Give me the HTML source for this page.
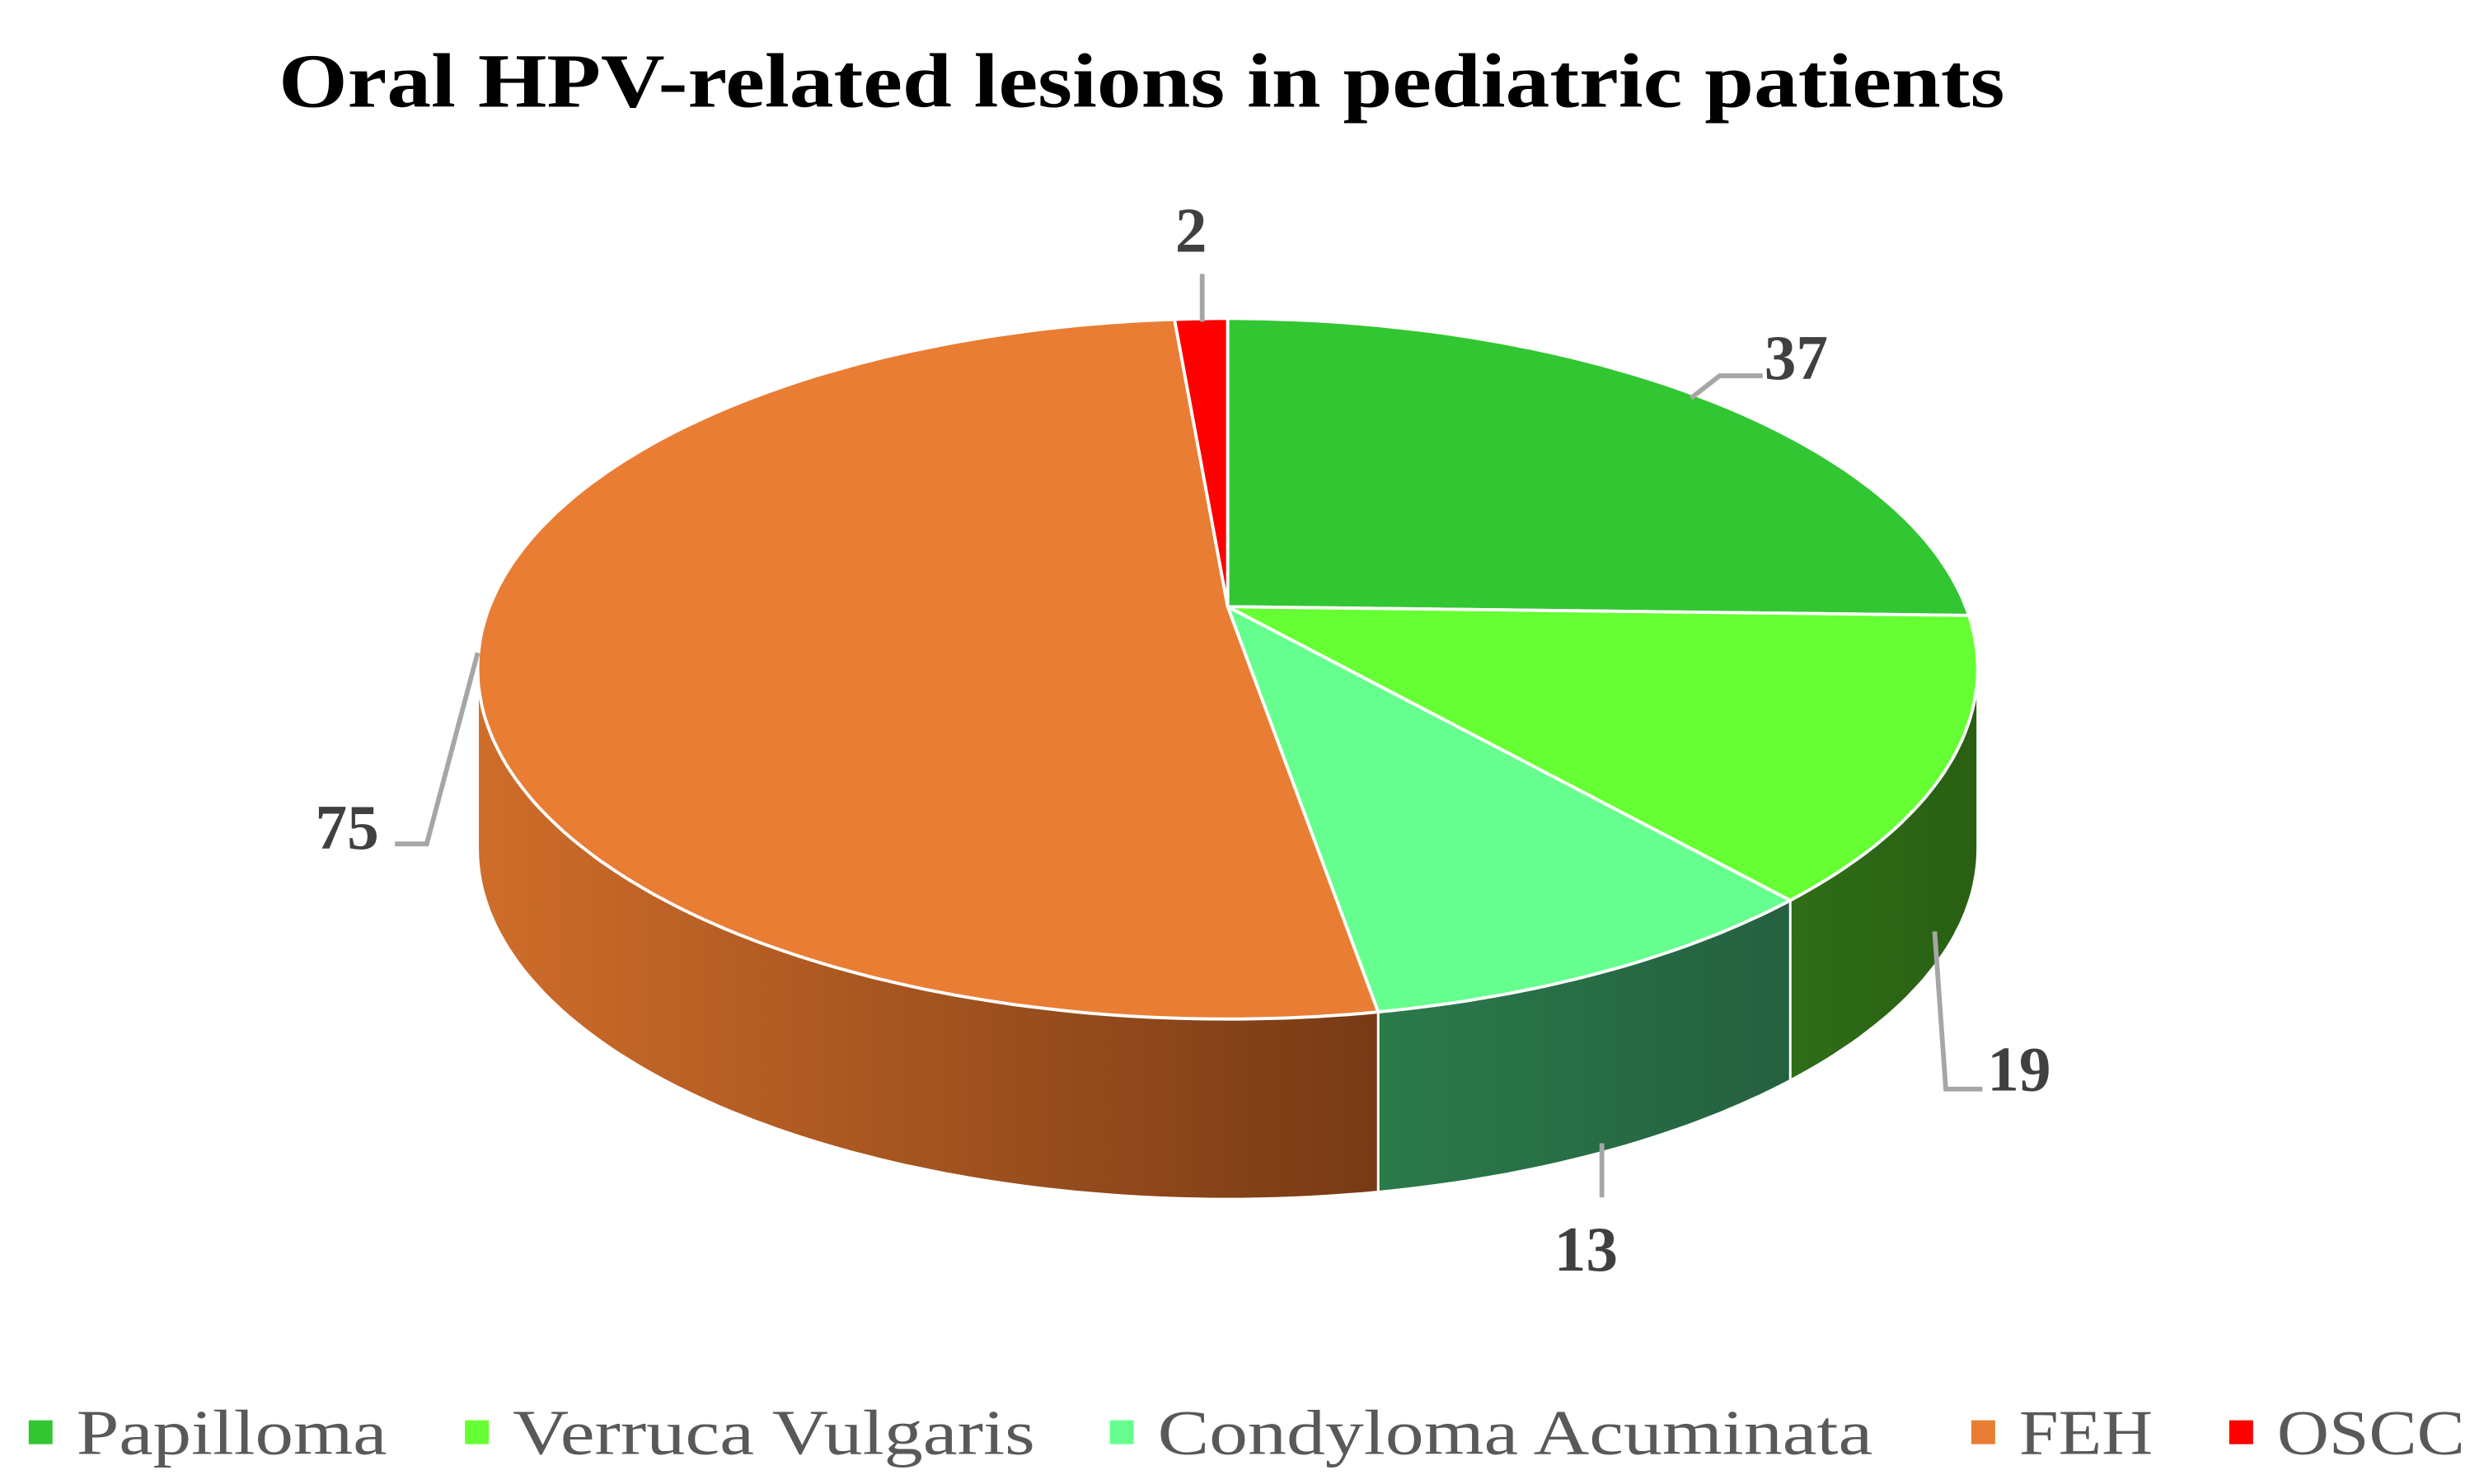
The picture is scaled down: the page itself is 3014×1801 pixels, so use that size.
<!DOCTYPE html>
<html><head><meta charset="utf-8"><style>
html,body{margin:0;padding:0;background:#fff;}
svg{display:block;}
</style></head><body>
<svg id="chart" width="3014" height="1801" viewBox="0 0 1560 932" preserveAspectRatio="none" xmlns="http://www.w3.org/2000/svg">
<defs>
<linearGradient id="fehSide" x1="0" y1="0" x2="1" y2="0">
<stop offset="0" stop-color="#cf6d2a"/><stop offset="1" stop-color="#773a15"/>
</linearGradient>
<linearGradient id="condSide" x1="0" y1="0" x2="1" y2="0">
<stop offset="0" stop-color="#2a7a4a"/><stop offset="1" stop-color="#256040"/>
</linearGradient>
<linearGradient id="verSide" x1="0" y1="0" x2="1" y2="0">
<stop offset="0" stop-color="#2f6e18"/><stop offset="1" stop-color="#295f12"/>
</linearGradient>
</defs>
<text x="175" y="67" textLength="1084" lengthAdjust="spacingAndGlyphs" font-family="Liberation Serif, serif" font-weight="bold" font-size="48" fill="#000">Oral HPV-related lesions in pediatric patients</text>
<g id="sides"></g>
<g id="tops"></g>
<g id="labels"></g>
<g id="legend"></g>
</svg>
<script>
const categories = ["Papilloma","Verruca Vulgaris","Condyloma Acuminata","FEH","OSCC"];
const values = [37,19,13,75,2];
const colors = ["#33c633","#66ff33","#66ff8f","#e97d33","#ff0000"];
const sideFills = ["#2d6a16","url(#verSide)","url(#condSide)","url(#fehSide)","#b00000"];
const labelPos = [[1128,225],[1268,672],[996,785],[218,520],[748,145]];
const leaders = [[[1107,236],[1080,236],[1062,250]],[[1245,684],[1222,684],[1215,585]],[[1006,752],[1006,718]],[[248,530],[268,530],[300,410]],[[755,172],[755,202]]];

const NS="http://www.w3.org/2000/svg";
const cx=771, cy=420, rx=471, ry=220, ax=771, ay=381, depth=113;
const total=values.reduce((a,b)=>a+b,0);
function pt(deg){let r=deg*Math.PI/180;r=r-(10*Math.PI/180)*Math.sin(r);return [cx+rx*Math.sin(r), cy-ry*Math.cos(r)];}
function warp(deg){const r=deg*Math.PI/180;return deg-10*Math.sin(r);}
function arcPts(a0,a1,dy){const p=[];const n=Math.max(2,Math.ceil((a1-a0)/1));for(let i=0;i<=n;i++){const q=pt(a0+(a1-a0)*i/n);p.push([q[0],q[1]+dy]);}return p;}
const sides=document.getElementById('sides'), tops=document.getElementById('tops'), labels=document.getElementById('labels'), legend=document.getElementById('legend');
let start=0;
const angles=values.map(v=>{const a=[start,start+v/total*360];start=a[1];return a;});
// visible front region: warped angle in 90..270 => data angle approx 80..280 (solve)
function inv(target){let lo=0,hi=360;for(let k=0;k<60;k++){const m=(lo+hi)/2;if(warp(m)<target)lo=m;else hi=m;}return (lo+hi)/2;}
const f0=inv(90), f1=inv(270);
angles.forEach((a,i)=>{
  const s0=Math.max(a[0],f0), s1=Math.min(a[1],f1);
  if(s1<=s0) return;
  const top=arcPts(s0,s1,0), bot=arcPts(s0,s1,depth).reverse();
  const d="M"+top.concat(bot).map(p=>p[0].toFixed(1)+","+p[1].toFixed(1)).join(" L")+"Z";
  const el=document.createElementNS(NS,'path');
  el.setAttribute('d',d);el.setAttribute('fill',sideFills[i]);el.setAttribute('stroke','#fff');el.setAttribute('stroke-width','1.5');
  
  
  sides.appendChild(el);
});
angles.forEach((a,i)=>{
  const arc=arcPts(a[0],a[1],0);
  const d="M"+ax+","+ay+" L"+arc.map(p=>p[0].toFixed(1)+","+p[1].toFixed(1)).join(" L")+"Z";
  const el=document.createElementNS(NS,'path');
  el.setAttribute('d',d);el.setAttribute('fill',colors[i]);el.setAttribute('stroke','#fff');el.setAttribute('stroke-width','2');el.setAttribute('stroke-linejoin','round');
  
  
  tops.appendChild(el);
});
values.forEach((v,i)=>{
  const pl=document.createElementNS(NS,'polyline');
  pl.setAttribute('points',leaders[i].map(p=>p.join(",")).join(" "));
  pl.setAttribute('fill','none');pl.setAttribute('stroke','#a6a6a6');pl.setAttribute('stroke-width','3');
  
  
  labels.appendChild(pl);
  const t=document.createElementNS(NS,'text');
  t.setAttribute('x',labelPos[i][0]);t.setAttribute('y',labelPos[i][1]+13);
  t.setAttribute('text-anchor','middle');t.setAttribute('font-family','Liberation Serif, serif');
  t.setAttribute('font-weight','bold');t.setAttribute('font-size','40');t.setAttribute('fill','#404040');
  t.textContent=v;
  
  
  labels.appendChild(t);
});
const legX=[18,292,697,1238,1400];
const legW=[195,328,449,84,118];
categories.forEach((c,i)=>{
  const g=document.createElementNS(NS,'g');
  
  
  const r=document.createElementNS(NS,'rect');
  r.setAttribute('x',legX[i]);r.setAttribute('y',892);r.setAttribute('width',15);r.setAttribute('height',15);r.setAttribute('fill',colors[i]);
  g.appendChild(r);
  const t=document.createElementNS(NS,'text');
  t.setAttribute('x',legX[i]+30);t.setAttribute('y',913);t.setAttribute('font-family','Liberation Serif, serif');
  t.setAttribute('font-size','40');t.setAttribute('fill','#595959');
  t.setAttribute('textLength',legW[i]);t.setAttribute('lengthAdjust','spacingAndGlyphs');
  t.textContent=c;
  g.appendChild(t);
  legend.appendChild(g);
});
</script>
</body></html>
